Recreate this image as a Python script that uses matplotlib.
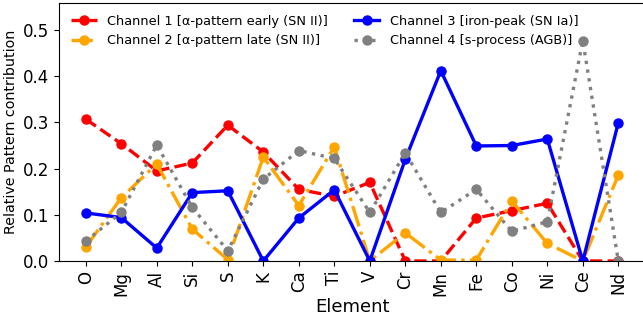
import matplotlib
matplotlib.use("Agg")
import matplotlib.pyplot as plt
import numpy as np

elements = ["O", "Mg", "Al", "Si", "S", "K", "Ca", "Ti", "V", "Cr",
            "Mn", "Fe", "Co", "Ni", "Ce", "Nd"]

ch1 = [0.307, 0.254, 0.195, 0.212, 0.294, 0.236, 0.155, 0.140,
       0.170, 0.0, 0.0, 0.093, 0.109, 0.125, 0.0, 0.0]
ch2 = [0.030, 0.137, 0.210, 0.069, 0.003, 0.225, 0.120, 0.247,
       0.0, 0.061, 0.002, 0.002, 0.130, 0.038, 0.0, 0.186]
ch3 = [0.104, 0.094, 0.028, 0.148, 0.152, 0.0, 0.093, 0.154,
       0.0, 0.220, 0.412, 0.249, 0.250, 0.264, 0.0, 0.299]
ch4 = [0.043, 0.105, 0.251, 0.116, 0.022, 0.177, 0.239, 0.222,
       0.105, 0.234, 0.105, 0.155, 0.064, 0.085, 0.477, 0.0]

labels = [
    "Channel 1 [α-pattern early (SN II)]",
    "Channel 2 [α-pattern late (SN II)]",
    "Channel 3 [iron-peak (SN Ia)]",
    "Channel 4 [s-process (AGB)]",
]

x = np.arange(len(elements))

fig = plt.figure(figsize=(6.43, 3.23), dpi=100)
# right edge of the axes sits just past the figure border
ax = fig.add_axes([0.092, 0.192, 0.911, 0.798])

ax.plot(x, ch1, "o--", color="red", lw=2.4, ms=6.5, label=labels[0])
ax.plot(x, ch2, "o-.", color="orange", lw=2.4, ms=6.5, label=labels[1])
ax.plot(x, ch3, "o-", color="blue", lw=2.4, ms=6.5, label=labels[2])
ax.plot(x, ch4, "o:", color="gray", lw=2.4, ms=6.5, label=labels[3])

ax.set_xticks(x)
ax.set_xticklabels(elements, rotation=90, fontsize=12)
ax.tick_params(axis="y", labelsize=12)
ax.set_ylim(0, 0.558)
ax.set_xlim(-0.75, 15.75)
ax.set_xlabel("Element", fontsize=13, labelpad=2)
ax.set_ylabel("Relative Pattern contribution", fontsize=10.3)
ax.legend(ncol=2, loc="upper left", frameon=False, fontsize=9.3)

fig.savefig("out.png", dpi=100)
